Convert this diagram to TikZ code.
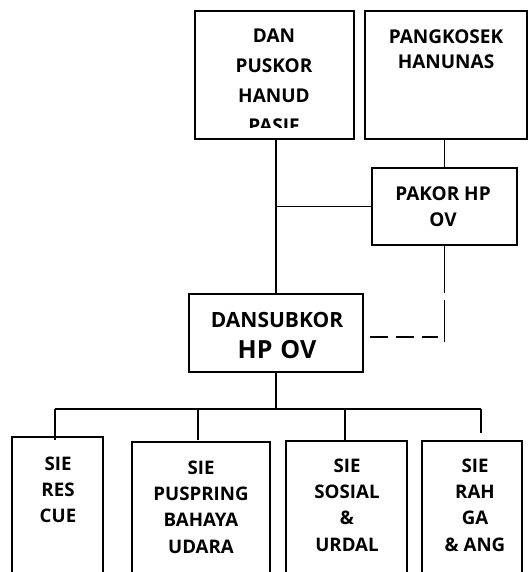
\documentclass[tikz,border=0pt]{standalone}
\usepackage{fontspec}
\setmainfont{Open Sans}
\begin{document}
\begin{tikzpicture}[x=1pt,y=-1pt,line width=1.9pt,
  box/.style={draw,rectangle,inner sep=0pt,outer sep=0pt},
  lbl/.style={anchor=north,inner sep=0pt,align=center},
  fA/.style={font={\fontsize{19}{29.7}\selectfont\bfseries}},
  fB/.style={font={\fontsize{19}{25}\selectfont\bfseries}},
  fC/.style={font={\fontsize{19}{26}\selectfont\bfseries}},
  fD/.style={font={\fontsize{18.7}{26.3}\selectfont\bfseries}},
  dashline/.style={dash pattern=on 18pt off 8pt}]
\clip (0,0) rectangle (528,572);
% boxes
\node[box,minimum width=159pt,minimum height=128pt] (DAN) at (274.5,75) {};
\node[box,minimum width=162pt,minimum height=128pt] (PANG) at (446,75) {};
\node[box,minimum width=145pt,minimum height=77pt] (PAKOR) at (444.5,206.5) {};
\node[box,minimum width=174pt,minimum height=78pt] (SUB) at (276,333) {};
\node[box,minimum width=91pt,minimum height=163pt] (B1) at (57.5,518.5) {};
\node[box,minimum width=138pt,minimum height=158pt] (B2) at (201,521) {};
\node[box,minimum width=121pt,minimum height=159pt] (B3) at (346.5,520.5) {};
\node[box,minimum width=100pt,minimum height=159pt] (B4) at (472,520.5) {};
% texts
\begin{scope}
\clip (196,12) rectangle (353,128);
\node[lbl,fA] (tDAN) at (274,28.4) {DAN\\PUSKOR\\HANUD\\PASIF};
\end{scope}
\node[lbl,fB] (tPANG) at (446,28.4) {PANGKOSEK\\HANUNAS};
\node[lbl,fC] (tPAKOR) at (443,185.4) {PAKOR HP\\OV};
\node[lbl,font={\fontsize{21}{24}\selectfont\bfseries}] (tSUB1) at (277,311) {DANSUBKOR};
\node[lbl,font={\fontsize{25}{28}\selectfont\bfseries}] (tSUB2) at (277,339.1) {HP\hspace{8pt}OV};
\node[lbl,fD] (tB1) at (58,455.8) {SIE\\RES\\CUE};
\node[lbl,fD] (tB2) at (201,459.8) {SIE\\PUSPRING\\BAHAYA\\UDARA};
\node[lbl,fD] (tB3) at (347,457.8) {SIE\\SOSIAL\\\&\\URDAL};
\node[lbl,fD] (tB4) at (475,457.8) {SIE\\RAH\\GA\\\& ANG};
% upper connectors
\draw (SUB.north |- DAN.south) -- (SUB.north);
\draw (PAKOR.west) -- (PAKOR.west -| SUB.north);
\draw (PAKOR.north |- PANG.south) -- (PAKOR.north);
% dashed link
\coordinate (dv1) at (444.5,293);
\coordinate (dv2) at (444.5,300);
\coordinate (dv3) at (444.5,342);
\coordinate (dh1) at (438,337);
\coordinate (dh2) at (370,337);
\draw (PAKOR.south) -- (dv1);
\draw (dv2) -- (dv3);
\draw[dashline] (dh2) -- (dh1);
% lower connectors
\coordinate (busL) at (55,409);
\coordinate (busR) at (481,409);
\coordinate (d1) at (55,440);
\coordinate (d2) at (198,440);
\coordinate (d3) at (345,440);
\coordinate (d4) at (481,433);
\draw (SUB.south) -- (SUB.south |- busL);
\draw (busL) -- (busR);
\draw (busL) -- (d1);
\draw (d2 |- busL) -- (d2);
\draw (d3 |- busL) -- (d3);
\draw (busR) -- (d4);
\end{tikzpicture}
\end{document}
